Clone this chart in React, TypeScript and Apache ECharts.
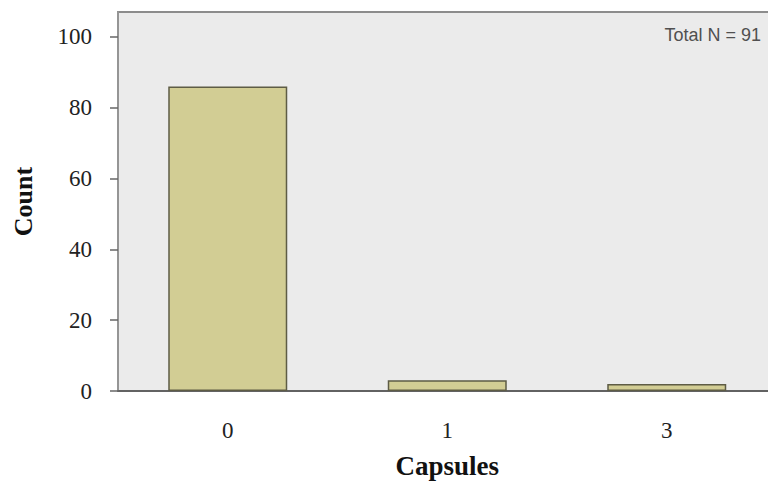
import React, { useEffect, useRef } from "react";
import * as echarts from "echarts";

const categories = ["0", "1", "3"];
const counts = [86, 3, 2];
const yTicks = [0, 20, 40, 60, 80, 100];
const totalLabel = "Total N = 91";

export default function App() {
  const ref = useRef<HTMLDivElement>(null);
  useEffect(() => {
    document.body.style.margin = "0";
    const chart = echarts.init(ref.current!, null, { renderer: "svg" });
    chart.setOption({
      animation: false,
      backgroundColor: "#ffffff",
      grid: {
        left: 118,
        top: 12,
        width: 658.5,
        height: 379,
        show: true,
        backgroundColor: "#ebebeb",
        borderColor: "#8c8c8c",
        borderWidth: 2,
      },
      xAxis: {
        type: "category",
        data: categories,
        name: "Capsules",
        nameLocation: "middle",
        nameGap: 61,
        nameTextStyle: {
          fontFamily: "Liberation Serif",
          fontWeight: "bold",
          fontSize: 27,
          color: "#111",
        },
        axisLine: { lineStyle: { color: "#555", width: 1.5 } },
        axisTick: { alignWithLabel: true, length: 7, lineStyle: { color: "#666", width: 1.5 } },
        axisLabel: {
          margin: 28,
          fontFamily: "Liberation Serif",
          fontSize: 23,
          color: "#222",
        },
      },
      yAxis: {
        type: "value",
        min: 0,
        max: 107,
        name: "Count",
        nameLocation: "middle",
        nameGap: 82,
        nameTextStyle: {
          fontFamily: "Liberation Serif",
          fontWeight: "bold",
          fontSize: 26,
          color: "#111",
        },
        splitLine: { show: false },
        axisLine: { show: true, lineStyle: { color: "#999", width: 1.5 } },
        axisTick: {
          show: true,
          length: 8,
          customValues: yTicks,
          lineStyle: { color: "#666", width: 1.5 },
        },
        axisLabel: {
          margin: 26,
          customValues: yTicks,
          fontFamily: "Liberation Serif",
          fontSize: 23,
          color: "#222",
        },
      },
      series: [
        {
          type: "bar",
          data: counts,
          barWidth: 119,
          itemStyle: {
            color: "#d2cd94",
            borderColor: "#5e5c45",
            borderWidth: 1.5,
          },
        },
      ],
      graphic: [
        {
          type: "text",
          right: 19,
          top: 26,
          style: {
            text: totalLabel,
            fontFamily: "Liberation Sans",
            fontSize: 18,
            fill: "#505050",
          },
        },
      ],
    });
    return () => chart.dispose();
  }, []);
  return (
    <div
      style={{
        position: "absolute",
        left: 0,
        top: 0,
        width: 768,
        height: 484,
        overflow: "hidden",
      }}
    >
      <div ref={ref} style={{ width: 780, height: 484 }} />
    </div>
  );
}
